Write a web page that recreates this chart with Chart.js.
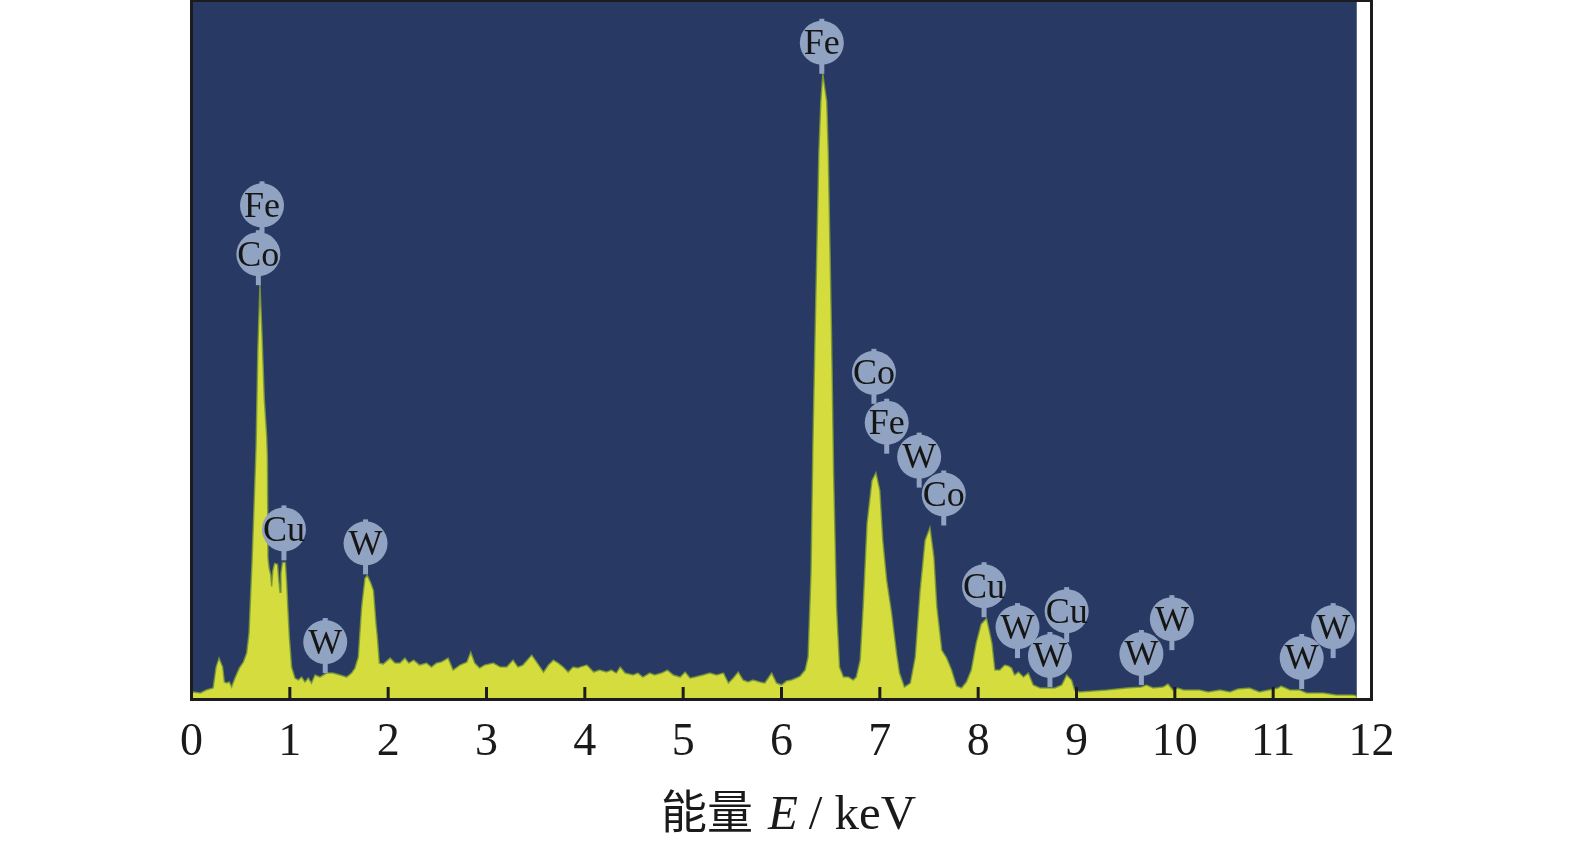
<!DOCTYPE html>
<html><head><meta charset="utf-8">
<script src="https://cdn.jsdelivr.net/npm/chart.js@4.4.0/dist/chart.umd.min.js"></script>
<style>html,body{margin:0;padding:0;background:#fff;overflow:hidden}canvas{display:block}</style>
</head><body>
<canvas id="c" width="1575" height="846" style="width:1575px;height:846px"></canvas>
<script>
// ---- data (energy in keV, intensity in arbitrary counts) ----
const energyKeV = [
0.00,0.02,0.09,0.15,0.22,0.25,0.28,0.317,0.334,0.357,0.385,0.408,0.442,0.486,0.527,0.561,0.585,0.60,0.615,0.635,
0.656,0.675,0.696,0.715,0.74,0.765,0.772,0.778,0.79,0.805,0.815,0.828,0.845,0.875,0.89,0.90,0.91,0.925,0.955,0.968,
0.98,0.995,1.018,1.052,1.086,1.12,1.154,1.188,1.22,1.256,1.306,1.374,1.44,1.51,1.578,1.628,1.662,1.696,1.73,1.764,
1.788,1.82,1.85,1.876,1.89,1.91,1.95,2.02,2.07,2.12,2.17,2.21,2.26,2.32,2.39,2.44,2.49,2.54,2.61,2.66,
2.73,2.80,2.84,2.88,2.93,2.98,3.07,3.14,3.205,3.27,3.32,3.37,3.46,3.51,3.58,3.63,3.68,3.73,3.78,3.83,
3.88,3.93,3.95,4.02,4.09,4.15,4.22,4.27,4.32,4.36,4.41,4.49,4.54,4.59,4.66,4.71,4.78,4.84,4.90,4.97,
5.02,5.07,5.12,5.20,5.27,5.34,5.41,5.46,5.51,5.56,5.61,5.66,5.71,5.78,5.83,5.90,5.95,6.00,6.05,6.10,
6.15,6.19,6.24,6.27,6.30,6.32,6.34,6.38,6.40,6.42,6.46,6.475,6.51,6.53,6.56,6.59,6.63,6.68,6.73,6.76,
6.80,6.83,6.87,6.92,6.96,7.00,7.03,7.07,7.12,7.17,7.20,7.25,7.31,7.36,7.41,7.46,7.51,7.55,7.58,7.63,
7.68,7.73,7.78,7.83,7.88,7.93,7.98,8.03,8.085,8.14,8.17,8.22,8.27,8.31,8.34,8.37,8.41,8.46,8.51,8.56,
8.63,8.70,8.78,8.85,8.90,8.95,8.98,9.03,9.31,9.51,9.66,9.71,9.78,9.88,9.93,9.98,10.03,10.09,10.25,10.34,
10.46,10.56,10.64,10.76,10.86,11.05,11.08,11.17,11.27,11.34,11.51,11.64,11.81,11.85
];
const counts = [
4,6,5,8,10,31,40,31,16,15,16,11,20,30,36,45,65,100,135,190,
250,350,415,370,300,262,240,140,130,124,112,128,135,134,116,106,125,136,136,115,
90,61,31,20,18,21,16,20,15,23,21,25,25,23,21,25,30,41,91,120,
123,116,108,75,61,35,34,40,35,35,40,35,38,33,35,31,35,36,40,28,
33,36,46,35,30,33,35,31,31,38,31,33,43,36,26,33,38,35,31,26,
31,30,31,33,26,28,26,28,25,31,25,23,25,21,25,23,25,28,23,21,
26,20,21,23,25,23,25,15,20,26,18,16,18,16,15,25,15,13,17,18,
20,22,28,41,125,258,358,548,598,626,598,548,358,225,91,31,21,21,18,21,
38,91,175,218,226,208,158,118,85,45,25,11,15,41,108,158,171,141,91,48,
40,28,12,10,16,28,55,74,80,55,28,28,33,32,30,23,26,21,25,13,
10,10,10,13,23,18,8,6,8,10,11,13,10,11,14,8,10,8,8,6,
8,6,9,10,6,10,12,8,8,5,5,3,3,2
];
const tickValues = [0,1,2,3,4,5,6,7,8,9,10,11,12];
const tickLabels = ['0','1','2','3','4','5','6','7','8','9','10','11','12'];
const peakElements = ['Fe','Co','Cu','W','W','Fe','Co','Fe','W','Co','Cu','W','W','Cu','W','W','W','W'];
const peakEnergy   = [0.717,0.68,0.94,1.36,1.77,6.41,6.94,7.07,7.40,7.65,8.06,8.40,8.73,8.90,9.66,9.97,11.29,11.61];
const peakCounts   = [463,414,138,25,124,626,295,245,211,173,81,40,11,56,13,48,9,40];
const spectrumEndKeV = 11.85;
const xTitleParts = ['能量', 'E', '/', 'keV'];

// ---- plugins ----
const bgPlugin = {
  id: 'bg',
  beforeDraw(chart) {
    const {ctx, chartArea: a, scales: {x}} = chart;
    ctx.save();
    ctx.fillStyle = '#ffffff';
    ctx.fillRect(0, 0, chart.width, chart.height);
    ctx.fillStyle = '#283963';
    const xr = x.getPixelForValue(spectrumEndKeV);
    ctx.fillRect(a.left, a.top, xr - a.left, a.bottom - a.top);
    ctx.restore();
  }
};

const framePlugin = {
  id: 'frame',
  afterDatasetsDraw(chart) {
    const {ctx, chartArea: a, scales: {x}} = chart;
    ctx.save();
    ctx.strokeStyle = '#1c1c1e';
    ctx.lineWidth = 3;
    for (const v of tickValues) {
      if (v === tickValues[0] || v === tickValues[tickValues.length - 1]) continue;
      const px = x.getPixelForValue(v);
      ctx.beginPath();
      ctx.moveTo(px, a.bottom);
      ctx.lineTo(px, a.bottom - 11);
      ctx.stroke();
    }
    ctx.beginPath();
    ctx.moveTo(a.left, a.top + 1); ctx.lineTo(a.right, a.top + 1);
    ctx.lineWidth = 2; ctx.stroke();
    ctx.lineWidth = 3;
    ctx.beginPath();
    ctx.moveTo(a.left, a.top); ctx.lineTo(a.left, a.bottom + 1.5);
    ctx.lineTo(a.right, a.bottom + 1.5); ctx.lineTo(a.right, a.top);
    ctx.stroke();
    ctx.restore();
  }
};

const labelPlugin = {
  id: 'peakLabels',
  afterDatasetsDraw(chart) {
    const {ctx, scales: {x, y}} = chart;
    const r = 22, stem = 9;
    ctx.save();
    peakElements.forEach((el, i) => {
      const px = x.getPixelForValue(peakEnergy[i]);
      const tip = y.getPixelForValue(peakCounts[i]);
      const cy = tip - stem - r;
      ctx.fillStyle = '#91a3c2';
      ctx.fillRect(px - 2.5, cy, 5, tip - cy);
      ctx.fillRect(px - 2.5, cy - r - 2, 5, 6);
      ctx.beginPath();
      ctx.arc(px, cy, r, 0, Math.PI * 2);
      ctx.fill();
      ctx.fillStyle = '#161616';
      ctx.font = '36px "Liberation Serif", "Times New Roman", serif';
      ctx.textAlign = 'center';
      ctx.textBaseline = 'middle';
      ctx.fillText(el, px, cy + 2);
    });
    ctx.restore();
  }
};

const titlePlugin = {
  id: 'xTitle',
  afterDraw(chart) {
    const {ctx, scales: {x}} = chart;
    const fonts = ['46px "Noto Sans CJK SC", sans-serif',
                   'italic 49px "Liberation Serif", serif',
                   '49px "Liberation Serif", serif',
                   '49px "Liberation Serif", serif'];
    const gaps = [15, 11, 12, 0];
    ctx.save();
    const widths = xTitleParts.map((t, i) => { ctx.font = fonts[i]; return ctx.measureText(t).width; });
    const total = widths.reduce((s, w) => s + w, 0) + gaps.reduce((s, g) => s + g, 0);
    const center = (x.left + x.right) / 2 + 7;
    let cx = center - total / 2;
    const baseY = 829;
    ctx.fillStyle = '#1a1a1a';
    ctx.textAlign = 'left';
    ctx.textBaseline = 'alphabetic';
    xTitleParts.forEach((t, i) => {
      ctx.font = fonts[i];
      ctx.fillText(t, cx, i === 0 ? baseY - 1 : baseY);
      cx += widths[i] + gaps[i];
    });
    ctx.restore();
  }
};

new Chart(document.getElementById('c'), {
  type: 'line',
  data: {
    datasets: [{
      data: energyKeV.map((e, i) => ({x: e, y: counts[i]})),
      fill: 'origin',
      backgroundColor: '#d4dc3e',
      borderColor: 'rgba(120,150,55,0.85)',
      borderWidth: 1.5,
      pointRadius: 0,
      tension: 0
    }]
  },
  options: {
    responsive: false,
    animation: false,
    devicePixelRatio: 1,
    layout: {padding: {left: 191.5, right: 203.5, top: 0, bottom: 0}},
    plugins: {legend: {display: false}, tooltip: {enabled: false}},
    scales: {
      x: {
        type: 'linear', min: 0, max: 12,
        afterBuildTicks(scale) { scale.ticks = tickValues.map(v => ({value: v})); },
        afterFit(scale) { scale.height = 148; },
        grid: {display: false, drawTicks: false},
        border: {display: false},
        ticks: {
          autoSkip: false, maxRotation: 0, padding: 17,
          color: '#1a1a1a',
          font: {family: '"Liberation Serif", "Times New Roman", serif', size: 46},
          callback: (v) => tickLabels[tickValues.indexOf(v)]
        }
      },
      y: {type: 'linear', min: 0, max: 700, display: false}
    }
  },
  plugins: [bgPlugin, framePlugin, labelPlugin, titlePlugin]
});
</script>
</body></html>
